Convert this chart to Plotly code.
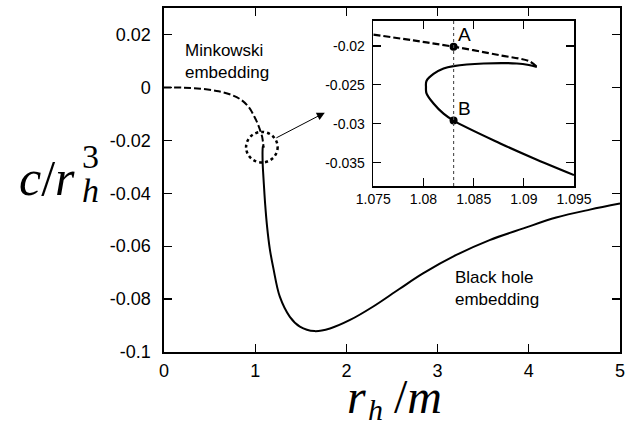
import plotly.graph_objects as go

# ---------------- data ----------------
# main panel: Minkowski embedding branch (dashed)
mink_x = [0.0, 0.2, 0.4, 0.6, 0.75, 0.85, 0.93, 0.99, 1.03, 1.06, 1.075, 1.083, 1.0876, 1.0913]
mink_y = [0.0, -0.0001, -0.0005, -0.0015, -0.0030, -0.0048, -0.0075, -0.0110, -0.0140, -0.0168,
          -0.0185, -0.0201, -0.0212, -0.0227]
# main panel: black hole embedding branch (solid)
bh_x = [1.0913, 1.0893, 1.086, 1.083, 1.081, 1.0803, 1.081, 1.083, 1.0876, 1.095, 1.11, 1.13,
        1.16, 1.2, 1.27, 1.38, 1.49, 1.65, 1.82, 2.04, 2.29, 2.58, 2.84, 3.2, 3.57, 3.94, 4.3, 4.67, 5.0]
bh_y = [-0.0227, -0.02226, -0.02226, -0.0226, -0.0236, -0.0253, -0.0274, -0.0296, -0.0325, -0.0366,
        -0.0445, -0.0525, -0.0610, -0.0685, -0.0791, -0.0867, -0.0904, -0.0921, -0.0911, -0.0879,
        -0.0829, -0.0762, -0.0703, -0.0634, -0.0577, -0.0533, -0.0492, -0.0462, -0.0439]

# inset: zoom near the transition
ins_mink_x = [1.075, 1.079, 1.083, 1.0876, 1.0906, 1.0913]
ins_mink_y = [-0.01854, -0.0193, -0.0201, -0.0212, -0.0220, -0.0227]
ins_bh_x = [1.0913, 1.0905, 1.0893, 1.086, 1.083, 1.082, 1.081, 1.0803, 1.08025, 1.0803, 1.081,
            1.082, 1.083, 1.0876, 1.0909, 1.095]
ins_bh_y = [-0.0227, -0.02245, -0.02226, -0.02226, -0.0226, -0.0229, -0.0236, -0.0245, -0.0253,
            -0.0261, -0.0274, -0.0287, -0.0296, -0.0325, -0.0344, -0.0366]
pts_label = ["A", "B"]
pts_x = [1.083, 1.083]
pts_y = [-0.0201, -0.0296]
vline_x = 1.083

# tick labels
main_xticks = [0, 1, 2, 3, 4, 5]
main_xtext = ["0", "1", "2", "3", "4", "5"]
main_yticks = [-0.1, -0.08, -0.06, -0.04, -0.02, 0, 0.02]
main_ytext = ["-0.1", "-0.08", "-0.06", "-0.04", "-0.02", "0", "0.02"]
ins_xticks = [1.075, 1.08, 1.085, 1.09, 1.095]
ins_xtext = ["1.075", "1.08", "1.085", "1.09", "1.095"]
ins_yticks = [-0.035, -0.03, -0.025, -0.02]
ins_ytext = ["-0.035", "-0.03", "-0.025", "-0.02"]

# highlighted region (circle) and arrow
circ_cx, circ_cy, circ_rx, circ_ry = 1.073, -0.0226, 0.173, 0.00577
arrow_tail = (1.216, -0.01936)
arrow_tip = (1.763, -0.00955)

# ---------------- figure ----------------
W, H = 626, 423
L, R, T, B = 164, 6, 8, 71
PW, PH = W - L - R, H - T - B


def px(x):
    return (x - L) / PW


def py(y):
    return (H - B - y) / PH


SANS = "Liberation Sans"
SERIF = "Liberation Serif"

fig = go.Figure()
fig.add_trace(go.Scatter(x=mink_x, y=mink_y, mode="lines", line=dict(color="black", width=2, dash="7px,3px", shape="spline"),
                         xaxis="x", yaxis="y", showlegend=False, hoverinfo="skip"))
fig.add_trace(go.Scatter(x=bh_x, y=bh_y, mode="lines", line=dict(color="black", width=2, shape="spline"),
                         xaxis="x", yaxis="y", showlegend=False, hoverinfo="skip"))
fig.add_trace(go.Scatter(x=ins_mink_x, y=ins_mink_y, mode="lines",
                         line=dict(color="black", width=2.2, dash="7px,3px", shape="spline"),
                         xaxis="x2", yaxis="y2", showlegend=False, hoverinfo="skip"))
fig.add_trace(go.Scatter(x=ins_bh_x, y=ins_bh_y, mode="lines", line=dict(color="black", width=2.2, shape="spline"),
                         xaxis="x2", yaxis="y2", showlegend=False, hoverinfo="skip"))
fig.add_trace(go.Scatter(x=pts_x, y=pts_y, mode="markers", marker=dict(color="black", size=8),
                         xaxis="x2", yaxis="y2", showlegend=False, hoverinfo="skip"))
for lab, xv, yv in zip(pts_label, pts_x, pts_y):
    fig.add_annotation(x=xv, y=yv, xref="x2", yref="y2", text=lab, showarrow=False,
                       xanchor="left", yanchor="bottom", xshift=2, yshift=0,
                       font=dict(family=SANS, size=19, color="black"))

axis_common = dict(showline=True, linecolor="black", linewidth=1.6, mirror="ticks", ticks="inside",
                   tickcolor="black", tickwidth=1.3, ticklen=8, showgrid=False, zeroline=False,
                   automargin=False)

fig.update_layout(
    width=W, height=H, autosize=False,
    margin=dict(l=L, r=R, t=T, b=B, autoexpand=False),
    paper_bgcolor="white", plot_bgcolor="white",
    xaxis=dict(range=[0, 5], tickvals=main_xticks, ticktext=main_xtext, domain=[0, 1], anchor="y",
               tickfont=dict(family=SANS, size=18, color="black"), ticklabelstandoff=2, **axis_common),
    yaxis=dict(range=[-0.1, 0.03], tickvals=main_yticks, ticktext=main_ytext, domain=[0, 1], anchor="x",
               tickfont=dict(family=SANS, size=18, color="black"), ticklabelstandoff=8, **axis_common),
    xaxis2=dict(range=[1.075, 1.095], tickvals=ins_xticks, ticktext=ins_xtext,
                domain=[px(373.3), px(574)], anchor="y2",
                tickfont=dict(family=SANS, size=14, color="black"), ticklabelstandoff=0, **axis_common),
    yaxis2=dict(range=[-0.038, -0.0168], tickvals=ins_yticks, ticktext=ins_ytext,
                domain=[py(186), py(21)], anchor="x2",
                tickfont=dict(family=SANS, size=14, color="black"), ticklabelstandoff=4, **axis_common),
)

# dotted vertical line in inset
fig.add_shape(type="line", xref="x2", yref="y2 domain", x0=vline_x, x1=vline_x, y0=0, y1=1,
              line=dict(color="#555555", width=1.2, dash="dot"))
# dotted circle in main panel
fig.add_shape(type="circle", xref="x", yref="y",
              x0=circ_cx - circ_rx, x1=circ_cx + circ_rx, y0=circ_cy - circ_ry, y1=circ_cy + circ_ry,
              line=dict(color="black", width=2.5, dash="dot"))
# arrow
fig.add_annotation(x=arrow_tip[0], y=arrow_tip[1], ax=arrow_tail[0], ay=arrow_tail[1], xref="x", yref="y",
                   axref="x", ayref="y", text="", showarrow=True, arrowhead=2, arrowsize=1.6, arrowwidth=1,
                   arrowcolor="black")

# text labels
fig.add_annotation(x=px(183), y=py(61), xref="paper", yref="paper", xanchor="left", yanchor="middle",
                   text="Minkowski<br>embedding", align="left", showarrow=False,
                   font=dict(family=SANS, size=17, color="black"))
fig.add_annotation(x=px(453), y=py(288), xref="paper", yref="paper", xanchor="left", yanchor="middle",
                   text="Black hole<br>embedding", align="left", showarrow=False,
                   font=dict(family=SANS, size=17, color="black"))

# y-axis title  c / r_h^3
fig.add_annotation(x=px(47), y=py(178), xref="paper", yref="paper", xanchor="center", yanchor="middle",
                   text="<i>c</i>/<i>r</i>", showarrow=False, font=dict(family=SERIF, size=50, color="black"))
fig.add_annotation(x=px(90), y=py(156), xref="paper", yref="paper", xanchor="center", yanchor="middle",
                   text="3", showarrow=False, font=dict(family=SERIF, size=34, color="black"))
fig.add_annotation(x=px(90), y=py(190), xref="paper", yref="paper", xanchor="center", yanchor="middle",
                   text="<i>h</i>", showarrow=False, font=dict(family=SERIF, size=34, color="black"))

# x-axis title  r_h / m
fig.add_annotation(x=px(356), y=py(396), xref="paper", yref="paper", xanchor="center", yanchor="middle",
                   text="<i>r</i>", showarrow=False, font=dict(family=SERIF, size=48, color="black"))
fig.add_annotation(x=px(375), y=py(409), xref="paper", yref="paper", xanchor="center", yanchor="middle",
                   text="<i>h</i>", showarrow=False, font=dict(family=SERIF, size=30, color="black"))
fig.add_annotation(x=px(418), y=py(396), xref="paper", yref="paper", xanchor="center", yanchor="middle",
                   text="/<i>m</i>", showarrow=False, font=dict(family=SERIF, size=48, color="black"))

fig.write_html("out.html", config={"displayModeBar": False, "staticPlot": True},
               post_script="document.body.style.margin='0px';document.body.style.overflow='hidden';")
